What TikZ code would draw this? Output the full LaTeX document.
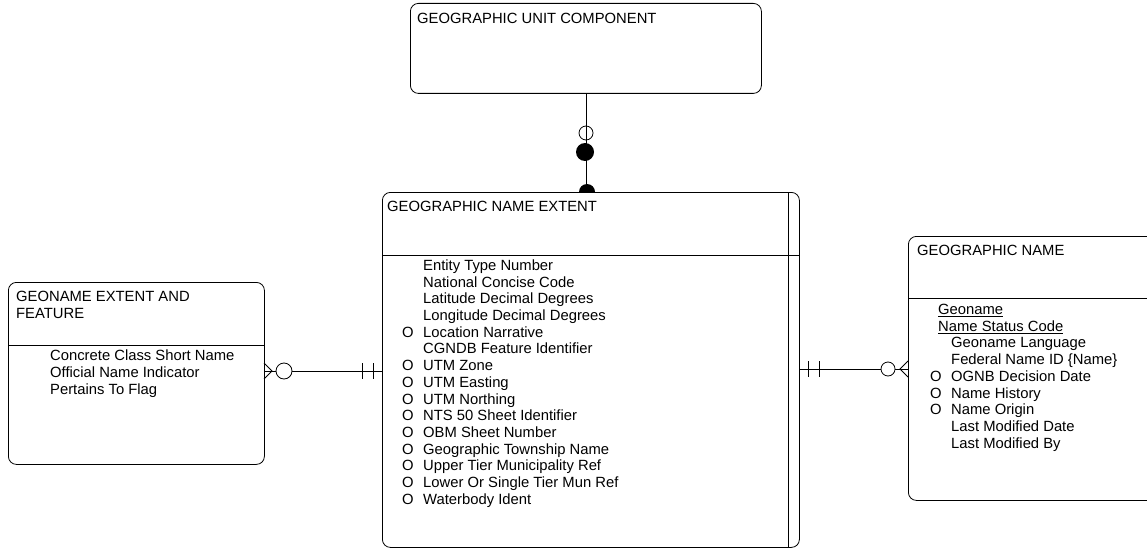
\documentclass[tikz,border=0pt]{standalone}
\usepackage{fontspec}
\setmainfont{Liberation Sans}
\usetikzlibrary{calc}

\newcommand{\plainattr}[1]{\hspace*{21pt}#1}
\newcommand{\optattr}[1]{\makebox[21pt][l]{O}#1}
\newcommand{\keyattr}[1]{\hspace*{8pt}\underline{#1}}

\begin{document}
\begin{tikzpicture}[x=1pt, y=-1pt, font=\fontsize{14.8pt}{16.7pt}\selectfont,
    every node/.style={align=left},
    entity/.style={rectangle, draw, rounded corners=8pt, fill=white, line width=0.8pt, inner sep=0pt, anchor=north west},
    txt/.style={inner sep=0pt, anchor=north west},
    rel/.style={line width=0.8pt},
]
\useasboundingbox (0,0) rectangle (1147,548);
\clip (0,0) rectangle (1147,548);

% entities
\node[entity, minimum width=351pt, minimum height=90pt] (guc) at (410,3) {};
\node[txt] (guctitle) at (417,12.5) {GEOGRAPHIC UNIT COMPONENT};

\node[entity, minimum width=417pt, minimum height=355pt] (gne) at (382,192) {};
\draw[rel] (gne.west |- 0,255) -- (gne.east |- 0,255);
\draw[rel] (gne.north -| 788,0) -- (gne.south -| 788,0);
\node[txt] (gnetitle) at (387,200.5) {GEOGRAPHIC NAME EXTENT};
\node[txt] (gneattr) at (402,259.5) {%
  \plainattr{Entity Type Number}\\
  \plainattr{National Concise Code}\\
  \plainattr{Latitude Decimal Degrees}\\
  \plainattr{Longitude Decimal Degrees}\\
  \optattr{Location Narrative}\\
  \plainattr{CGNDB Feature Identifier}\\
  \optattr{UTM Zone}\\
  \optattr{UTM Easting}\\
  \optattr{UTM Northing}\\
  \optattr{NTS 50 Sheet Identifier}\\
  \optattr{OBM Sheet Number}\\
  \optattr{Geographic Township Name}\\
  \optattr{Upper Tier Municipality Ref}\\
  \optattr{Lower Or Single Tier Mun Ref}\\
  \optattr{Waterbody Ident}};

\node[entity, minimum width=256pt, minimum height=182pt] (geaf) at (8,282) {};
\draw[rel] (geaf.west |- 0,345) -- (geaf.east |- 0,345);
\node[txt] (geaftitle) at (16,291) {GEONAME EXTENT AND\\FEATURE};
\node[txt] (geafattr) at (50,350) {%
  Concrete Class Short Name\\
  Official Name Indicator\\
  Pertains To Flag};

\node[entity, minimum width=260pt, minimum height=264pt] (gn) at (908,236) {};
\draw[rel] (gn.west |- 0,298) -- (gn.east |- 0,298);
\node[txt] (gntitle) at (917,245) {GEOGRAPHIC NAME};
\node[txt] (gnattr) at (930,304) {%
  \keyattr{Geoname}\\
  \keyattr{Name Status Code}\\
  \plainattr{Geoname Language}\\
  \plainattr{Federal Name ID \{Name\}}\\
  \optattr{OGNB Decision Date}\\
  \optattr{Name History}\\
  \optattr{Name Origin}\\
  \plainattr{Last Modified Date}\\
  \plainattr{Last Modified By}};

% relationships
\draw[rel] (guc.south -| 586,0) -- (gne.north -| 586,0);
\draw[rel] (586,133) circle[radius=7pt];
\fill (585,152) circle[radius=9pt];
\fill (579,192) arc[start angle=180, end angle=0, radius=8pt];

\draw[rel] (geaf.east |- 0,371) -- (gne.west |- 0,371);
\draw[rel] (264,363) -- (272,371) -- (264,379);
\draw[rel, fill=white] (284,371) circle[radius=8pt];
\draw[rel] (362,363) -- (362,379);
\draw[rel] (373,363) -- (373,379);

\draw[rel] (gne.east |- 0,369) -- (gn.west |- 0,369);
\draw[rel] (808,361) -- (808,377);
\draw[rel] (819,361) -- (819,377);
\draw[rel, fill=white] (888,369) circle[radius=7pt];
\draw[rel] (908,361) -- (900,369) -- (908,377);

\end{tikzpicture}
\end{document}
